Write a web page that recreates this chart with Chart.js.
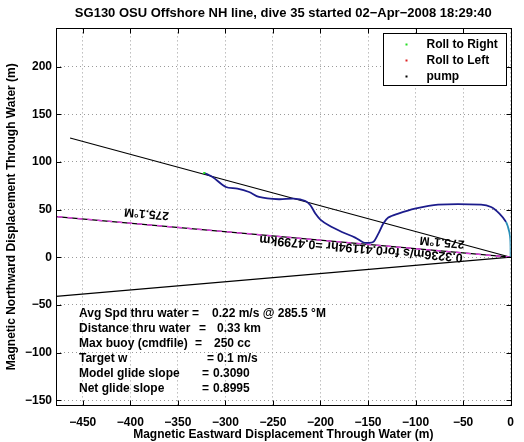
<!DOCTYPE html>
<html>
<head>
<meta charset="utf-8">
<title>SG130 dive 35</title>
<script src="https://cdn.jsdelivr.net/npm/chart.js@4.4.0/dist/chart.umd.min.js"></script>
<style>
  html, body { margin: 0; padding: 0; background: #fff; }
</style>
</head>
<body>
<canvas id="glideChart" width="524" height="442"></canvas>
<script>
// track of the glider through water (m, east / north of the dive start)
const trackEast = [-322.2, -313.5, -299.5, -287.4, -275.1, -264.7, -243.8, -228.1, -215.8, -210.6,
    -205.4, -200.1, -191.4, -177.5, -163.5, -154.8, -149.6, -144.4, -139.1, -133.9,
    -128.7, -118.2, -100.7, -76.4, -31.1, -20.6, -11.8, -4.9, -1.4, -0.3, 0];
const trackNorth = [88.4, 84.2, 73.7, 72.0, 68.4, 63.2, 60.8, 61.5, 59.0, 54.5,
    45.8, 39.5, 33.5, 26.5, 20.6, 15.4, 15.0, 16.0, 24.8, 35.3,
    41.6, 45.8, 51.0, 55.2, 55.2, 52.7, 45.8, 37.0, 26.5, 17.8, 0];

const rollRightEast = [-322.2];
const rollRightNorth = [88.4];
const rollLeftEast = [];
const rollLeftNorth = [];
const pumpEast = [];
const pumpNorth = [];

// heading fan: course made good and +/- 10 deg, length of the leg
const headingDeg = [285.1, 275.1, 265.1];
const legLength = 479.9;

const xTickValues = [-450, -400, -350, -300, -250, -200, -150, -100, -50, 0];
const yTickValues = [-150, -100, -50, 0, 50, 100, 150, 200];

const headingLabel = '275.1°M';
const legLabel = '0.3236m/s for0.41194hr =0.4799km';

const statLabels = ['Avg Spd thru water', 'Distance thru water', 'Max buoy (cmdfile)', 'Target w', 'Model glide slope', 'Net glide slope'];
const statValues = ['0.22 m/s @ 285.5 °M', '0.33 km', '250 cc', '0.1 m/s', '0.3090', '0.8995'];

const FONT = "'Liberation Sans', Arial, Helvetica, sans-serif";

document.addEventListener('DOMContentLoaded', function () {
    initCharts();
});

function toPoints(xs, ys) {
    return xs.map(function (v, i) { return { x: v, y: ys[i] }; });
}

function headingLine(deg) {
    const r = deg * Math.PI / 180;
    return [{ x: 0, y: 0 }, { x: legLength * Math.sin(r), y: legLength * Math.cos(r) }];
}

function minusSign(v) {
    return String(v).replace('-', '\u2212');
}

const overlayPlugin = {
    id: 'overlay',
    afterDatasetsDraw(chart) {
        const { ctx, scales: { x, y } } = chart;
        const end = headingLine(headingDeg[1])[1];
        const ang = Math.atan2(y.getPixelForValue(0) - y.getPixelForValue(end.y),
            x.getPixelForValue(0) - x.getPixelForValue(end.x));
        // upside-down labels along the heading line
        const notes = [
            { text: headingLabel, x: -382.9, y: 45.8, font: 'bold 12px ' + FONT },
            { text: headingLabel, x: -72.2, y: 16.0, font: 'bold 12px ' + FONT },
            { text: legLabel, x: -157.4, y: 9.4, font: 'bold 12.5px ' + FONT },
        ];
        ctx.save();
        ctx.fillStyle = '#000';
        ctx.textAlign = 'center';
        ctx.textBaseline = 'middle';
        notes.forEach(function (n) {
            ctx.save();
            ctx.translate(x.getPixelForValue(n.x), y.getPixelForValue(n.y));
            ctx.rotate(ang + Math.PI);
            ctx.font = n.font;
            ctx.fillText(n.text, 0, 0);
            ctx.restore();
        });
        ctx.restore();
    },
    afterDraw(chart) {
        const { ctx, chartArea: a, scales: { x, y } } = chart;
        const L = Math.round(a.left) + 0.5, R = Math.round(a.right) + 0.5;
        const T = Math.round(a.top) + 0.5, B = Math.round(a.bottom) + 0.5;
        ctx.save();
        ctx.strokeStyle = '#000';
        ctx.lineWidth = 1;
        ctx.setLineDash([]);
        ctx.strokeRect(L, T, R - L, B - T);

        // inward tick marks
        ctx.beginPath();
        xTickValues.forEach(function (v) {
            const px = Math.round(x.getPixelForValue(v)) + 0.5;
            ctx.moveTo(px, B); ctx.lineTo(px, B - 5);
            ctx.moveTo(px, T); ctx.lineTo(px, T + 5);
        });
        yTickValues.forEach(function (v) {
            const py = Math.round(y.getPixelForValue(v)) + 0.5;
            ctx.moveTo(L, py); ctx.lineTo(L + 5, py);
            ctx.moveTo(R, py); ctx.lineTo(R - 5, py);
        });
        ctx.stroke();

        // stats block
        const eqX = [192, 199, 195, 207, 202, 202];
        const valX = [212, 217, 214, 217, 213, 213];
        ctx.fillStyle = '#000';
        ctx.font = 'bold 12px ' + FONT;
        ctx.textBaseline = 'middle';
        ctx.textAlign = 'left';
        statLabels.forEach(function (s, i) {
            const cy = 314 + i * 15;
            ctx.fillText(s, 79, cy);
            ctx.fillText('=', eqX[i], cy);
            ctx.fillText(statValues[i], valX[i], cy);
        });

        // legend box
        const bx = R - 128, by = T + 5, bw = 123, bh = 52;
        ctx.fillStyle = '#fff';
        ctx.fillRect(bx, by, bw, bh);
        ctx.strokeRect(bx, by, bw, bh);
        chart.data.datasets.filter(function (d) { return d.inLegend; }).forEach(function (d, i) {
            const cy = by + 11 + i * 16;
            ctx.fillStyle = d.pointBackgroundColor;
            ctx.fillRect(bx + 22, cy - 1, 2, 2);
            ctx.fillStyle = '#000';
            ctx.fillText(d.label, bx + 43, cy);
        });
        ctx.restore();
    }
};

function initCharts() {
    const fan = headingDeg.map(headingLine);
    const tealFrom = trackEast.length - 4;

    createChart('glideChart', {
        type: 'scatter',
        data: {
            datasets: [
                {
                    label: 'Roll to Right',
                    inLegend: true,
                    data: toPoints(rollRightEast, rollRightNorth),
                    pointStyle: 'rect',
                    pointRadius: 1.5,
                    pointBackgroundColor: '#22dd22',
                    pointBorderWidth: 0,
                },
                {
                    label: 'Roll to Left',
                    inLegend: true,
                    data: toPoints(rollLeftEast, rollLeftNorth),
                    pointStyle: 'rect',
                    pointRadius: 1.5,
                    pointBackgroundColor: '#dd2222',
                    pointBorderWidth: 0,
                },
                {
                    label: 'pump',
                    inLegend: true,
                    data: toPoints(pumpEast, pumpNorth),
                    pointStyle: 'rect',
                    pointRadius: 1.5,
                    pointBackgroundColor: '#000000',
                    pointBorderWidth: 0,
                },
                {
                    label: 'track',
                    data: toPoints(trackEast, trackNorth),
                    showLine: true,
                    pointRadius: 0,
                    borderWidth: 1.8,
                    borderColor: '#1c1c8c',
                    tension: 0.3,
                    segment: {
                        borderColor: function (c) { return c.p0DataIndex >= tealFrom ? '#2a8fb8' : '#1c1c8c'; },
                    },
                },
                {
                    label: 'course dashes',
                    data: fan[1],
                    showLine: true,
                    pointRadius: 0,
                    borderWidth: 1.5,
                    borderColor: '#e040e0',
                    borderDash: [5, 5],
                },
                {
                    label: 'course',
                    data: fan[1],
                    showLine: true,
                    pointRadius: 0,
                    borderWidth: 1.2,
                    borderColor: '#000',
                },
                {
                    label: 'plus 10',
                    data: fan[0],
                    showLine: true,
                    pointRadius: 0,
                    borderWidth: 1.2,
                    borderColor: '#000',
                },
                {
                    label: 'minus 10',
                    data: fan[2],
                    showLine: true,
                    pointRadius: 0,
                    borderWidth: 1.2,
                    borderColor: '#000',
                },
            ],
        },
        options: {
            responsive: false,
            animation: false,
            layout: { padding: { left: 0, right: 11, top: 0, bottom: 0 } },
            plugins: {
                legend: { display: false },
                tooltip: { enabled: false },
                title: {
                    display: true,
                    fullSize: false,
                    text: 'SG130 OSU Offshore NH line, dive 35 started 02\u2212Apr\u22122008 18:29:40',
                    color: '#000',
                    font: { family: FONT, size: 13, weight: 'bold' },
                    padding: { top: 5.5, bottom: 7.3 },
                },
            },
            scales: {
                x: {
                    type: 'linear',
                    min: fan[2][1].x,
                    max: 0,
                    afterBuildTicks: function (scale) { scale.ticks = xTickValues.map(function (v) { return { value: v }; }); },
                    afterFit: function (scale) { scale.height = 37; },
                    grid: { color: '#9a9a9a', drawTicks: false, lineWidth: 1 },
                    border: { display: false, dash: [1, 3] },
                    ticks: {
                        color: '#000',
                        padding: 10,
                        font: { family: FONT, size: 12, weight: 'bold' },
                        callback: minusSign,
                    },
                    title: {
                        display: true,
                        text: 'Magnetic Eastward Displacement Through Water (m)',
                        color: '#000',
                        font: { family: FONT, size: 12, weight: 'bold' },
                        padding: { top: 0, bottom: 0 },
                    },
                },
                y: {
                    type: 'linear',
                    min: -155,
                    max: 240,
                    afterBuildTicks: function (scale) { scale.ticks = yTickValues.map(function (v) { return { value: v }; }); },
                    afterFit: function (scale) { scale.width = 56; },
                    grid: { color: '#9a9a9a', drawTicks: false, lineWidth: 1 },
                    border: { display: false, dash: [1, 3] },
                    ticks: {
                        color: '#000',
                        padding: 4,
                        font: { family: FONT, size: 12, weight: 'bold' },
                        callback: minusSign,
                    },
                    title: {
                        display: true,
                        text: 'Magnetic Northward Displacement Through Water (m)',
                        color: '#000',
                        font: { family: FONT, size: 12, weight: 'bold' },
                        padding: { top: 4, bottom: 0 },
                    },
                },
            },
        },
        plugins: [overlayPlugin],
    });
}

function createChart(id, config) {
    const ctx = document.getElementById(id);
    if (!ctx) {
        console.error(`Canvas element with id '${id}' not found`);
        return;
    }

    if (ctx.chart) {
        ctx.chart.destroy();
    }

    ctx.chart = new Chart(ctx, config);
}
</script>
</body>
</html>
